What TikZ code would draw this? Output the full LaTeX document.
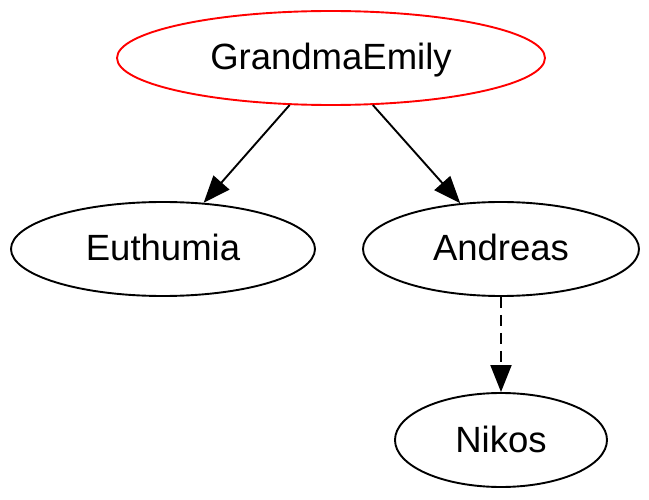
\documentclass[tikz,border=0pt]{standalone}
\usepackage{fontspec}
\setmainfont{Liberation Sans}
\usetikzlibrary{shapes.geometric,arrows.meta}
\begin{document}
\begin{tikzpicture}[x=1pt,y=-1pt,
  nd/.style={ellipse,draw=black,line width=1.9pt,inner sep=0pt,text height=30pt,text depth=6pt,font=\fontsize{36.5}{44}\selectfont},
  edge/.style={draw=black,line width=1.9pt,-{Triangle[length=27pt,width=21pt]}}]
\useasboundingbox (0,0) rectangle (649,500);
\node[nd,draw=red,minimum width=428pt,minimum height=94pt] (ge) at (331,58) {GrandmaEmily};
\node[nd,minimum width=304pt,minimum height=94pt] (eu) at (163,249) {Euthumia};
\node[nd,minimum width=276pt,minimum height=94pt] (an) at (501,249) {Andreas};
\node[nd,minimum width=212pt,minimum height=94pt] (ni) at (501,440) {Nikos};
\draw[edge] (ge) -- (eu);
\draw[edge] (ge) -- (an);
\draw[edge,dash pattern=on 11pt off 7pt] (an) -- (ni);
\end{tikzpicture}
\end{document}
